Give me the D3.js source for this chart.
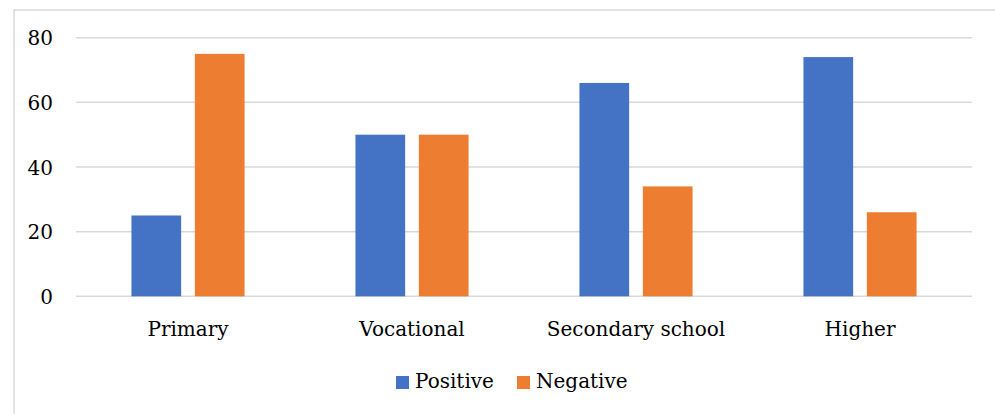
<!DOCTYPE html>
<html>
<head>
<meta charset="utf-8">
<script src="https://cdn.jsdelivr.net/npm/d3@7"></script>
<style>
  html, body { margin: 0; padding: 0; background: #fff; }
  svg { display: block; }
  text { font-family: "DejaVu Serif", serif; fill: #000; }
</style>
</head>
<body>
<svg id="chart" width="995" height="414"></svg>
<script>
const categories = ["Primary", "Vocational", "Secondary school", "Higher"];
const seriesNames = ["Positive", "Negative"];
const positive = [25, 50, 66, 74];
const negative = [75, 50, 34, 26];
const yTicks = [0, 20, 40, 60, 80];
const colors = ["#4472C4", "#ED7D31"];

const svg = d3.select("#chart");
const plotLeft = 76, plotRight = 972, plotTop = 37.7, plotBottom = 296.3;

// outer chart border
svg.append("rect")
  .attr("x", 14).attr("y", 10)
  .attr("width", 1000).attr("height", 430)
  .attr("fill", "none").attr("stroke", "#d9d9d9").attr("stroke-width", 1.5);

const x0 = d3.scaleBand().domain(categories).range([plotLeft, plotRight]).padding(0);
const x1 = d3.scaleBand().domain(seriesNames).range([0, x0.bandwidth()])
  .paddingInner(0.216).paddingOuter(0.874);
const y = d3.scaleLinear().domain([0, 80]).range([plotBottom, plotTop]);

// gridlines
svg.append("g").selectAll("line").data(yTicks).join("line")
  .attr("x1", plotLeft).attr("x2", plotRight)
  .attr("y1", d => y(d)).attr("y2", d => y(d))
  .attr("stroke", "#d9d9d9").attr("stroke-width", 1.5);

// y axis labels
const yAxis = d3.axisLeft(y).tickValues(yTicks).tickSize(0).tickPadding(0);
const ya = svg.append("g").attr("transform", "translate(53,0)").call(yAxis);
ya.select(".domain").remove();
ya.selectAll("text").attr("font-size", 20).attr("font-family", "DejaVu Serif, serif")
  .attr("fill", "#000").attr("dy", "0.35em").attr("x", 0);

// bars
const data = categories.map((c, i) => ({ cat: c, vals: [positive[i], negative[i]] }));
const groups = svg.append("g").selectAll("g").data(data).join("g")
  .attr("transform", d => `translate(${x0(d.cat)},0)`);
groups.selectAll("rect").data(d => d.vals.map((v, j) => ({ s: seriesNames[j], v, j })))
  .join("rect")
  .attr("x", d => x1(d.s))
  .attr("width", x1.bandwidth())
  .attr("y", d => y(d.v))
  .attr("height", d => y(0) - y(d.v))
  .attr("fill", d => colors[d.j]);

// x axis labels
const xAxis = d3.axisBottom(x0).tickSize(0).tickPadding(0);
const xa = svg.append("g").attr("transform", `translate(0,${plotBottom})`).call(xAxis);
xa.select(".domain").remove();
xa.selectAll("text").attr("font-size", 20).attr("font-family", "DejaVu Serif, serif")
  .attr("fill", "#000").attr("dy", null).attr("y", 40);

// legend
const legendItems = [
  { name: seriesNames[0], color: colors[0], x: 396 },
  { name: seriesNames[1], color: colors[1], x: 517 }
];
const lg = svg.append("g").selectAll("g").data(legendItems).join("g")
  .attr("transform", d => `translate(${d.x},376)`);
lg.append("rect").attr("width", 13).attr("height", 13).attr("fill", d => d.color);
lg.append("text").attr("x", 19).attr("y", 12).attr("font-size", 20).text(d => d.name);
</script>
</body>
</html>
